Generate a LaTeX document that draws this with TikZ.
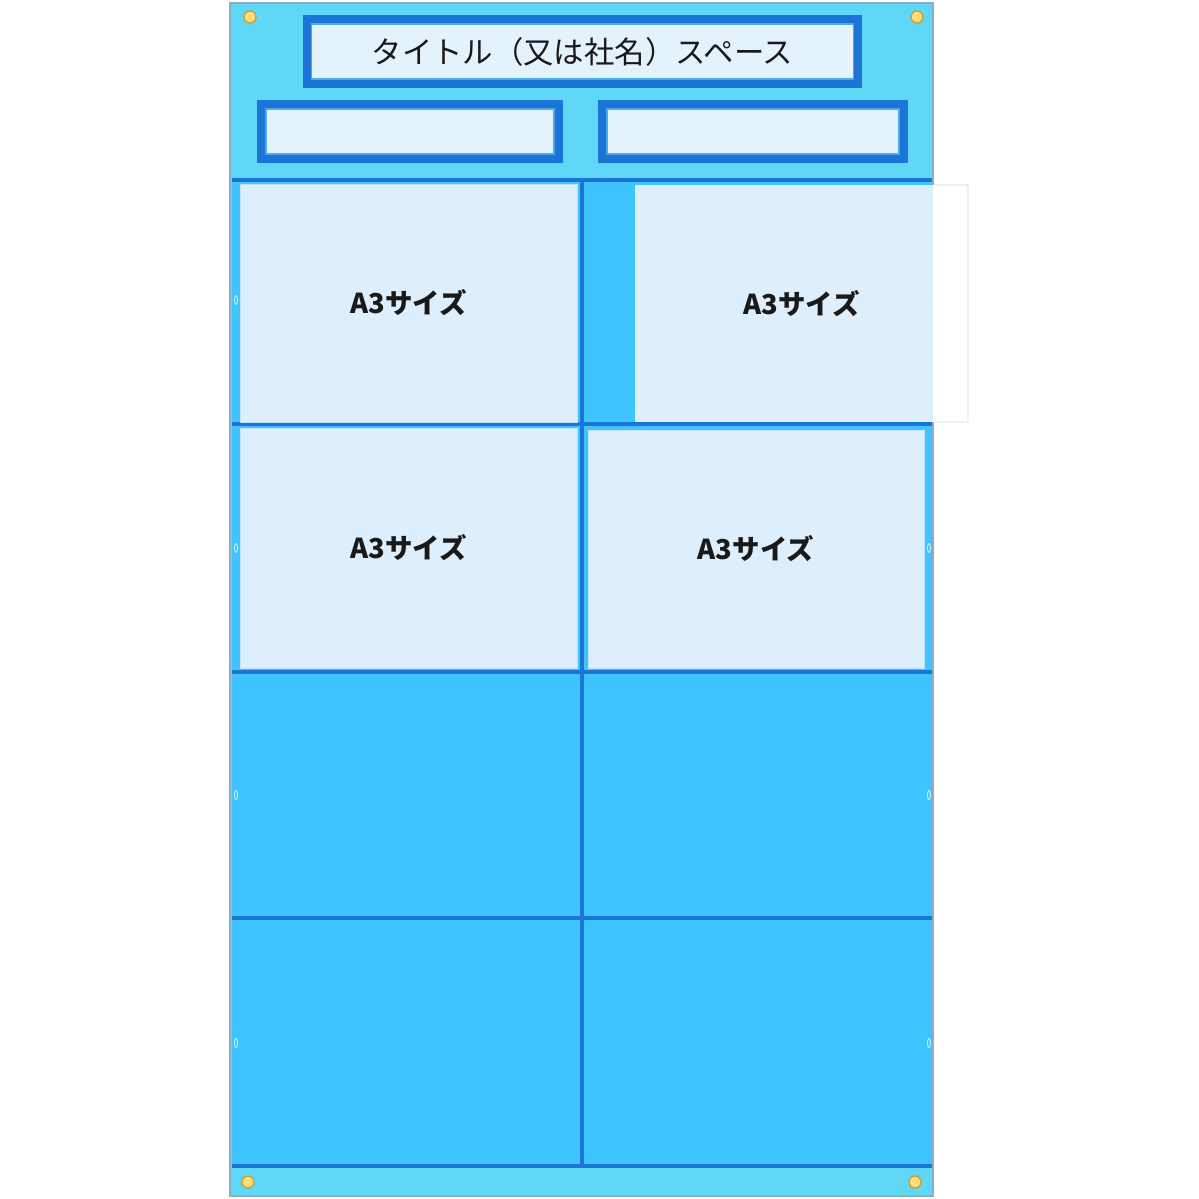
\documentclass[tikz,border=0pt]{standalone}
\usepackage{fontspec}
\newfontfamily\jpfont{Noto Sans CJK JP}
\usepackage{xcolor}
\usetikzlibrary{positioning, calc}

\definecolor{boardlight}{HTML}{5FD8F7}
\definecolor{boardblue}{HTML}{40C4FF}
\definecolor{framedark}{HTML}{1C74D6}
\definecolor{framemid}{HTML}{4AAAF0}
\definecolor{sheetfill}{HTML}{DDEFFC}
\definecolor{platefill}{HTML}{E4F2FC}
\definecolor{edgegray}{HTML}{8AAFC4}
\definecolor{grommetfill}{HTML}{FFE07A}
\definecolor{grommetedge}{HTML}{D89B2E}

\begin{document}
\begin{tikzpicture}[x=0.025cm,y=-0.025cm,
  plate/.style={draw=framedark,line width=5.7pt,fill=platefill,inner sep=0pt,outer sep=0pt,text=black!90,font=\jpfont\fontsize{21.6}{25}\selectfont},
  pocket/.style={draw=framemid!35,line width=0.4pt,fill=sheetfill,inner sep=0pt,outer sep=0pt,text=black!90,font=\jpfont\bfseries\fontsize{19.5}{22}\selectfont},
  gridline/.style={draw=framedark,line width=2.8pt},
  notch/.style={draw=white!75!boardblue,line width=0.6pt},
  grommet/.style={draw=grommetedge,fill=grommetfill,line width=1pt}]
  \useasboundingbox (0,0) rectangle (1199,1199);
  \fill[white] (0,0) rectangle (1199,1199);

  % board and pocket grid
  \draw[edgegray,fill=boardlight,line width=1pt] (230,3) rectangle (933,1196);
  \fill[boardblue] (232,180) rectangle (932,1166);
  \foreach \y in {180,424,672,918,1166}
    \draw[gridline] (232,\y) -- (932,\y);
  \draw[gridline] (582,180) -- (582,1166);

  % header plates
  \node[plate,minimum width=13.775cm,minimum height=1.625cm] (title) at (582.5,51.5) {タイトル（又は社名）スペース};
  \node[plate,minimum width=7.45cm,minimum height=1.375cm] (subleft) at (410,131.5) {};
  \node[plate,minimum width=7.55cm,minimum height=1.375cm] (subright) at (753,131.5) {};
  \foreach \n in {title,subleft,subright}
    \draw[framemid,line width=0.8pt] ($(\n.north west)+(5,5)$) rectangle ($(\n.south east)+(-5,-5)$);

  % A3 pockets
  \node[pocket,minimum width=8.425cm,minimum height=5.95cm] (pocketA) at (408.5,303) {A3サイズ};
  \node[pocket,draw=none,minimum width=8.325cm,minimum height=5.925cm] (pocketB) at (801.5,303.5) {};
  \fill[white] (933,185) rectangle (pocketB.south east);
  \draw[edgegray!45,line width=0.6pt] (933,185) -- (pocketB.north east) -- (pocketB.south east) -- (933,422);
  \node[pocket,draw=none,fill=none] (labelB) at (pocketB.center) {A3サイズ};
  \node[pocket,minimum width=8.425cm,minimum height=6cm] (pocketC) at (408.5,548) {A3サイズ};
  \node[pocket,minimum width=8.4cm,minimum height=5.95cm] (pocketD) at (756,549) {A3サイズ};

  % side notches
  \foreach \y in {300,548,795,1043} {
    \draw[notch] (236,\y) ellipse (1.5 and 4.5);
    \draw[notch] (929,\y) ellipse (1.5 and 4.5);
  }

  % grommets
  \foreach \p in {(250,17),(917,17),(248,1182),(915,1182)}
    \draw[grommet] \p circle (6);
\end{tikzpicture}
\end{document}
